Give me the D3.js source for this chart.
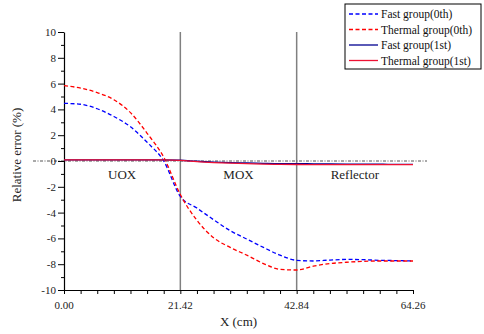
<!DOCTYPE html>
<html>
<head>
<meta charset="utf-8">
<script src="https://cdn.jsdelivr.net/npm/d3@7"></script>
<style>
  body { margin: 0; background: #fff; }
</style>
</head>
<body>
<div id="chart"></div>
<script>
// mesh positions (cm)
const xPos = [0, 3.06, 6.12, 9.18, 12.24, 15.30, 18.36, 21.42, 24.48, 27.54, 30.60,
              33.66, 36.72, 39.78, 42.84, 45.90, 48.96, 52.02, 55.08, 58.14, 61.20, 64.26];

const fast0 = [4.47, 4.40, 4.05, 3.45, 2.65, 1.45, 0.00, -2.75, -3.65, -4.55, -5.40,
               -6.05, -6.70, -7.30, -7.70, -7.75, -7.68, -7.63, -7.65, -7.70, -7.72, -7.75];
const thermal0 = [5.84, 5.65, 5.30, 4.75, 3.75, 2.15, 0.30, -2.60, -4.60, -5.95, -6.70,
                  -7.30, -7.95, -8.40, -8.45, -8.15, -7.95, -7.85, -7.78, -7.75, -7.75, -7.75];
const fast1 = [0.08, 0.08, 0.08, 0.08, 0.08, 0.08, 0.08, 0.06, -0.02, -0.08, -0.12,
               -0.15, -0.18, -0.20, -0.20, -0.22, -0.23, -0.24, -0.25, -0.25, -0.26, -0.26];
const thermal1 = [0.08, 0.08, 0.08, 0.08, 0.08, 0.08, 0.08, 0.05, -0.05, -0.12, -0.17,
                  -0.21, -0.24, -0.26, -0.27, -0.28, -0.28, -0.28, -0.28, -0.28, -0.28, -0.28];

const seriesNames = ['Fast group(0th)', 'Thermal group(0th)', 'Fast group(1st)', 'Thermal group(1st)'];
const xTickLabels = ['0.00', '21.42', '42.84', '64.26'];
const yTicks = [10, 8, 6, 4, 2, 0, -2, -4, -6, -8, -10];
const regions = ['UOX', 'MOX', 'Reflector'];

const FONT = '"Liberation Serif", "Times New Roman", serif';
const width = 484, height = 334;
const margin = { top: 32, right: 71, bottom: 44, left: 64 };
const innerW = width - margin.left - margin.right;
const innerH = height - margin.top - margin.bottom;

const svg = d3.select('#chart').append('svg')
    .attr('width', width)
    .attr('height', height)
    .attr('font-family', FONT);

const g = svg.append('g').attr('transform', `translate(${margin.left},${margin.top})`);

const x = d3.scaleLinear().domain([0, 64.26]).range([0, innerW]);
const y = d3.scaleLinear().domain([-10, 10]).range([innerH, 0]);

// region boundaries
g.selectAll('.boundary')
    .data([21.42, 42.84])
    .join('line')
    .attr('x1', d => x(d)).attr('x2', d => x(d))
    .attr('y1', 0).attr('y2', innerH)
    .attr('stroke', '#808080')
    .attr('stroke-width', 1.5);

// zero reference line (dash-dot, sticks out both sides)
g.append('line')
    .attr('x1', x(0) - 31).attr('x2', x(64.26) + 14)
    .attr('y1', y(0)).attr('y2', y(0))
    .attr('stroke', '#555')
    .attr('stroke-width', 1)
    .attr('stroke-dasharray', '3,1.5,1,1.5');

// X axis - minor + major ticks
const minorX = d3.range(0, 22).map(i => i * 3.06);
const xAxis = g.append('g')
    .attr('transform', `translate(0,${innerH})`)
    .call(d3.axisBottom(x).tickValues(minorX).tickSize(4).tickFormat('').tickSizeOuter(0));
xAxis.select('.domain').attr('stroke', '#000').attr('stroke-width', 1.2);
xAxis.selectAll('.tick line').attr('stroke', '#000');
g.selectAll('.xlab')
    .data(xTickLabels)
    .join('text')
    .attr('x', d => x(+d))
    .attr('y', innerH + 19)
    .attr('text-anchor', 'middle')
    .attr('fill', '#222')
    .style('font-size', '11px')
    .text(d => d);

// Y axis
const yAxis = g.append('g')
    .call(d3.axisLeft(y).tickValues(d3.range(-10, 11, 1)).tickSize(3).tickFormat('').tickSizeOuter(0));
yAxis.select('.domain').attr('stroke', '#000').attr('stroke-width', 1.2);
yAxis.selectAll('.tick line')
    .attr('stroke', '#000')
    .attr('x2', d => (d % 2 === 0 ? -6 : -3));
g.selectAll('.ylab')
    .data(yTicks)
    .join('text')
    .attr('x', -8)
    .attr('y', d => y(d) + 4)
    .attr('text-anchor', 'end')
    .attr('fill', '#222')
    .style('font-size', '11px')
    .text(d => d);

// axis titles
svg.append('text')
    .attr('transform', 'translate(21,155) rotate(-90)')
    .attr('text-anchor', 'middle')
    .attr('fill', '#222')
    .style('font-size', '13px')
    .text('Relative error (%)');
svg.append('text')
    .attr('x', margin.left + innerW / 2)
    .attr('y', 326)
    .attr('text-anchor', 'middle')
    .attr('fill', '#222')
    .style('font-size', '13px')
    .text('X (cm)');

// region names
g.selectAll('.region')
    .data(regions)
    .join('text')
    .attr('x', (d, i) => x(10.71 + i * 21.42))
    .attr('y', y(-1.1) + 4)
    .attr('text-anchor', 'middle')
    .attr('fill', '#222')
    .style('font-size', '13px')
    .text(d => d);

// curves
const series = [
    { name: seriesNames[0], values: fast0, color: '#0000ff', dash: '4,2.5' },
    { name: seriesNames[1], values: thermal0, color: '#ff0000', dash: '4,2.5' },
    { name: seriesNames[2], values: fast1, color: '#000090', dash: null },
    { name: seriesNames[3], values: thermal1, color: '#ee1133', dash: null },
];

const line = d3.line()
    .x((d, i) => x(xPos[i]))
    .y(d => y(d))
    .curve(d3.curveMonotoneX);

g.selectAll('.curve')
    .data(series)
    .join('path')
    .attr('fill', 'none')
    .attr('stroke', d => d.color)
    .attr('stroke-width', 1.3)
    .attr('stroke-dasharray', d => d.dash)
    .attr('d', d => line(d.values));

// legend
const legend = svg.append('g').attr('transform', 'translate(345,4)');
legend.append('rect')
    .attr('width', 136).attr('height', 65)
    .attr('fill', '#fff')
    .attr('stroke', '#000')
    .attr('stroke-width', 1);
const item = legend.selectAll('.item')
    .data(series)
    .join('g')
    .attr('transform', (d, i) => `translate(0,${10 + i * 15.5})`);
item.append('line')
    .attr('x1', 4).attr('x2', 33)
    .attr('stroke', d => d.color)
    .attr('stroke-width', 1.3)
    .attr('stroke-dasharray', d => d.dash);
item.append('text')
    .attr('x', 36)
    .attr('y', 4)
    .attr('fill', '#111')
    .style('font-size', '11.5px')
    .text(d => d.name);
</script>
</body>
</html>
